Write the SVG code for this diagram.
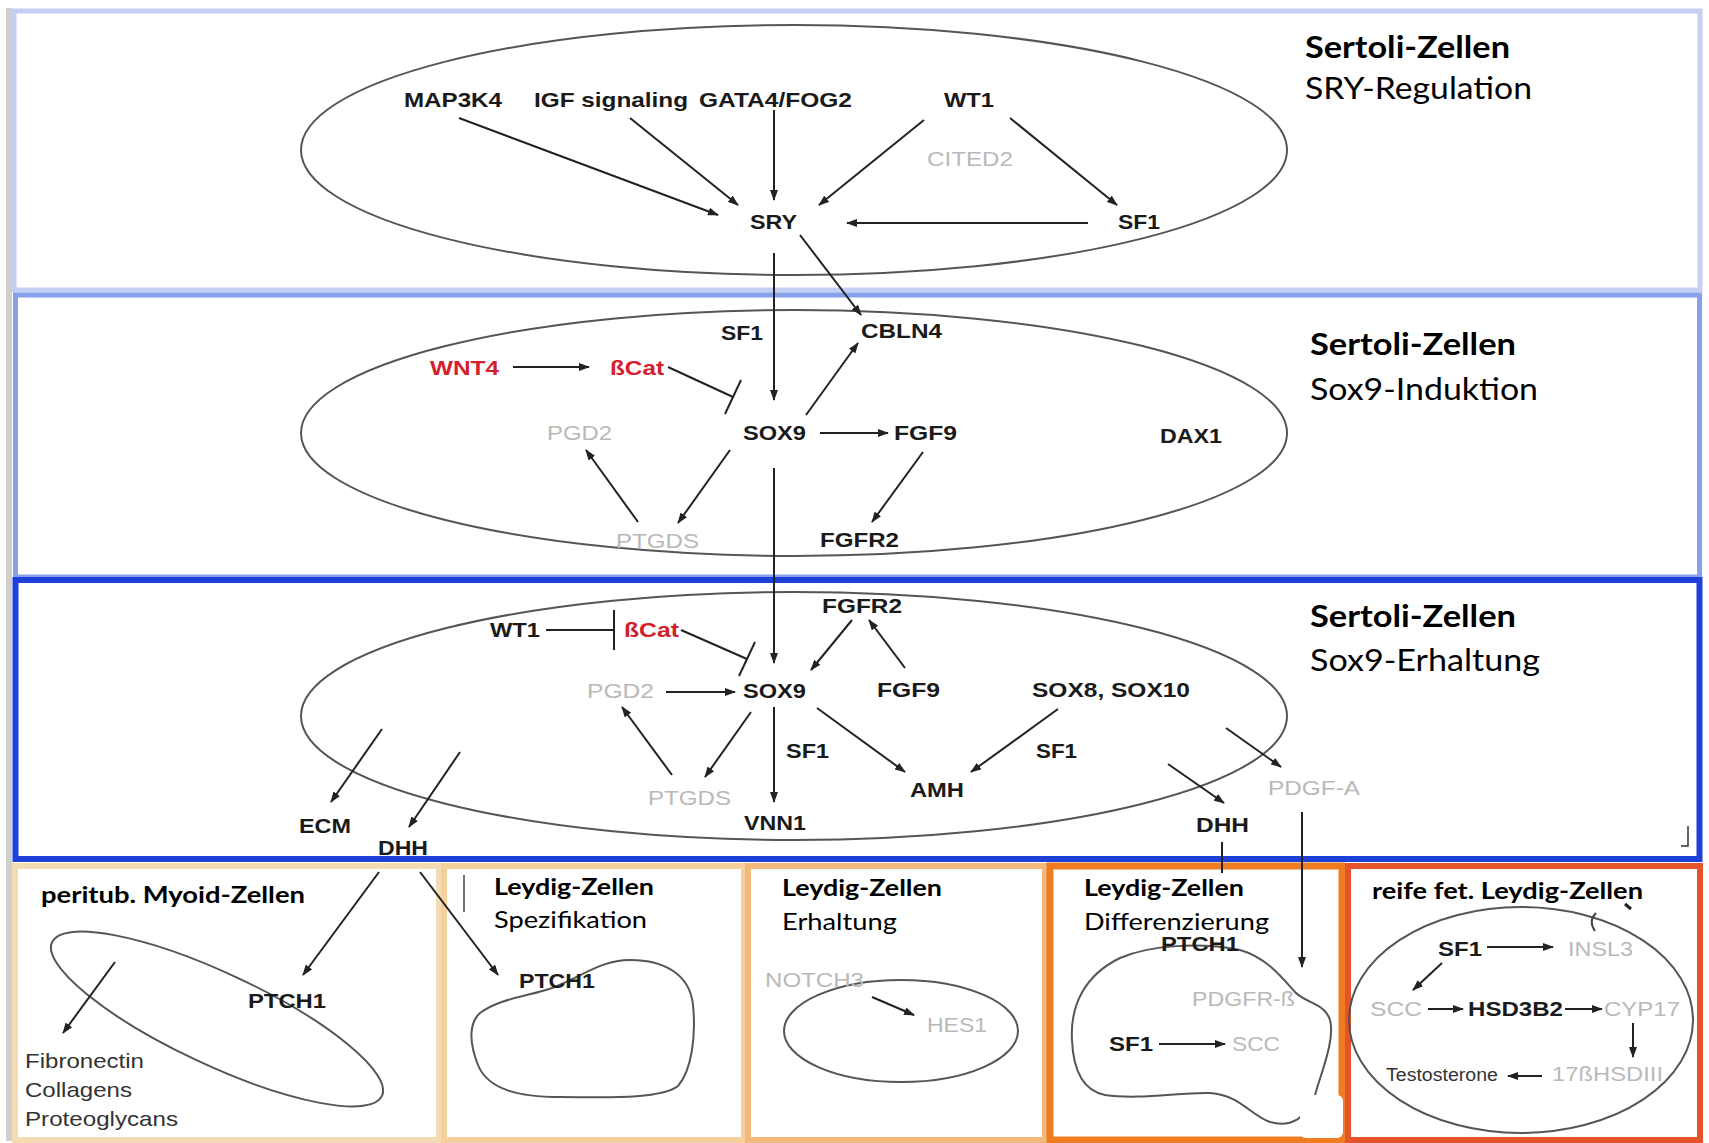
<svg xmlns="http://www.w3.org/2000/svg" width="1709" height="1143" viewBox="0 0 1709 1143">
<defs>
<marker id="ah" markerUnits="userSpaceOnUse" markerWidth="11" markerHeight="8" refX="10" refY="4" orient="auto">
<path d="M0,0 L11,4 L0,8 z" fill="#222"/>
</marker>
<style>
.n{font-family:"Liberation Sans",Arial,sans-serif;font-weight:bold;font-size:21px;fill:#1a1a1a}
.g{fill:#b9b9b9;font-weight:normal}
.r{fill:#d3202c}
.k{fill:#333;font-weight:normal}
.h{font-family:Lato,"Open Sans","Liberation Sans",sans-serif;font-size:31px;fill:#000}
.s{font-family:Lato,"Open Sans","Liberation Sans",sans-serif;font-size:23px;fill:#000}
.b{font-weight:bold}
.cell{fill:none;stroke:#555;stroke-width:2}
.c{stroke:#222;stroke-width:2;fill:none;marker-end:url(#ah)}
.t{stroke:#222;stroke-width:2;fill:none}
</style>
</defs>
<rect width="1709" height="1143" fill="#fff"/>
<g id="frames">
<line x1="9" y1="8" x2="9" y2="1141" stroke="#cfcfcf" stroke-width="6"/>
<rect x="14" y="11" width="1686" height="279" fill="#fff" stroke="#c4cff3" stroke-width="5"/>
<rect x="15.5" y="295" width="1684" height="282" fill="#fff" stroke="#86a0ec" stroke-width="5"/>
<rect x="15.5" y="580" width="1684" height="279" fill="#fff" stroke="#1c40d8" stroke-width="6"/>
<rect x="15" y="866" width="424" height="274" fill="#fff" stroke="#f3dcb4" stroke-width="6"/>
<rect x="444" y="866" width="300" height="274" fill="#fff" stroke="#f5cf9c" stroke-width="6"/>
<rect x="748" y="866" width="297" height="274" fill="#fff" stroke="#f3b87c" stroke-width="6"/>
<rect x="1050" y="866" width="292" height="274" fill="#fff" stroke="#f07c22" stroke-width="7"/>
<rect x="1348" y="866" width="352" height="274" fill="#fff" stroke="#e4532a" stroke-width="6"/>
</g>
<g id="cells">
<ellipse class="cell" cx="794" cy="150" rx="493" ry="125"/>
<ellipse class="cell" cx="794" cy="433" rx="493" ry="123"/>
<ellipse class="cell" cx="794" cy="716" rx="493" ry="124"/>
<ellipse class="cell" cx="217" cy="1019" rx="182" ry="46" transform="rotate(25 217 1019)"/>
<path class="cell" d="M480,1013 C500,998 530,996 552,988 C580,978 600,960 630,960 C665,960 690,975 693,1005 C696,1035 692,1070 678,1086 C660,1100 600,1097 560,1097 C520,1097 488,1090 478,1065 C468,1040 470,1022 480,1013 Z"/>
<ellipse class="cell" cx="901" cy="1031" rx="117" ry="51"/>
<path class="cell" d="M1072,1040 C1070,1005 1085,975 1120,958 C1150,945 1200,942 1240,950 C1265,957 1280,975 1295,992 C1305,1003 1325,1003 1330,1020 C1335,1040 1322,1070 1315,1095 C1308,1118 1290,1128 1270,1122 C1250,1115 1240,1095 1210,1093 C1180,1092 1140,1100 1105,1095 C1080,1090 1073,1065 1072,1040 Z"/>
<ellipse class="cell" cx="1521" cy="1020" rx="172" ry="113"/>
</g>
<g id="connectors">
<line class="c" x1="459" y1="118" x2="718" y2="215"/>
<line class="c" x1="630" y1="118" x2="738" y2="205"/>
<line class="c" x1="774" y1="110" x2="774" y2="200"/>
<line class="c" x1="924" y1="120" x2="819" y2="205"/>
<line class="c" x1="1010" y1="118" x2="1117" y2="205"/>
<line class="c" x1="1088" y1="223" x2="847" y2="223"/>
<line class="c" x1="774" y1="253" x2="774" y2="400"/>
<line class="c" x1="800" y1="235" x2="861" y2="315"/>
<line class="c" x1="513" y1="367" x2="589" y2="367"/>
<line class="t" x1="668" y1="367" x2="733" y2="397"/>
<line class="t" x1="741" y1="380" x2="725" y2="414"/>
<line class="c" x1="806" y1="415" x2="858" y2="343"/>
<line class="c" x1="820" y1="433" x2="888" y2="433"/>
<line class="c" x1="730" y1="450" x2="678" y2="523"/>
<line class="c" x1="638" y1="522" x2="586" y2="450"/>
<line class="c" x1="923" y1="452" x2="872" y2="522"/>
<line class="c" x1="774" y1="468" x2="774" y2="663"/>
<line class="t" x1="546" y1="630" x2="614" y2="630"/>
<line class="t" x1="614" y1="610" x2="614" y2="650"/>
<line class="t" x1="681" y1="630" x2="747" y2="659"/>
<line class="t" x1="755" y1="642" x2="739" y2="676"/>
<line class="c" x1="666" y1="692" x2="735" y2="692"/>
<line class="c" x1="852" y1="620" x2="811" y2="670"/>
<line class="c" x1="905" y1="668" x2="869" y2="620"/>
<line class="c" x1="817" y1="708" x2="905" y2="772"/>
<line class="c" x1="1058" y1="709" x2="971" y2="772"/>
<line class="c" x1="751" y1="712" x2="705" y2="777"/>
<line class="c" x1="672" y1="775" x2="622" y2="707"/>
<line class="c" x1="774" y1="707" x2="774" y2="802"/>
<line class="c" x1="382" y1="729" x2="331" y2="802"/>
<line class="c" x1="460" y1="752" x2="409" y2="827"/>
<line class="c" x1="1226" y1="728" x2="1281" y2="767"/>
<line class="c" x1="1168" y1="764" x2="1224" y2="803"/>
<line class="t" x1="1222" y1="842" x2="1222" y2="873"/>
<line class="c" x1="1302" y1="812" x2="1302" y2="967"/>
<line class="c" x1="379" y1="872" x2="303" y2="975"/>
<line class="c" x1="420" y1="872" x2="498" y2="975"/>
<line class="c" x1="115" y1="962" x2="63" y2="1033"/>
<line class="c" x1="872" y1="997" x2="914" y2="1015"/>
<line class="c" x1="1159" y1="1044" x2="1225" y2="1044"/>
<line class="c" x1="1487" y1="947" x2="1553" y2="947"/>
<line class="c" x1="1442" y1="963" x2="1413" y2="990"/>
<line class="c" x1="1428" y1="1009" x2="1463" y2="1009"/>
<line class="c" x1="1565" y1="1009" x2="1602" y2="1009"/>
<line class="c" x1="1633" y1="1023" x2="1633" y2="1057"/>
<line class="c" x1="1542" y1="1076" x2="1508" y2="1076"/>
</g>
<g id="marks">
<path d="M1681,846 L1688,846 L1688,826" fill="none" stroke="#333" stroke-width="1.5"/>
<line x1="464" y1="875" x2="464" y2="912" stroke="#444" stroke-width="1.5"/>
<path d="M1596,913 Q1588,921 1595,931" fill="none" stroke="#444" stroke-width="2"/>
<path d="M1625,904 L1631,909" stroke="#222" stroke-width="3"/>
<rect x="1300" y="1095" width="43" height="43" rx="6" fill="#fff"/>
</g>
<g id="headers">
<g id="h1"><text class="h b" x="1305" y="58" textLength="205" lengthAdjust="spacingAndGlyphs">Sertoli-Zellen</text><text class="h" x="1305" y="99" textLength="227" lengthAdjust="spacingAndGlyphs">SRY-Regulation</text></g>
<g id="h2"><text class="h b" x="1310" y="355" textLength="206" lengthAdjust="spacingAndGlyphs">Sertoli-Zellen</text><text class="h" x="1310" y="400" textLength="228" lengthAdjust="spacingAndGlyphs">Sox9-Induktion</text></g>
<g id="h3"><text class="h b" x="1310" y="627" textLength="206" lengthAdjust="spacingAndGlyphs">Sertoli-Zellen</text><text class="h" x="1310" y="671" textLength="230" lengthAdjust="spacingAndGlyphs">Sox9-Erhaltung</text></g>
<g id="hA"><text class="s b" x="41" y="903" textLength="264" lengthAdjust="spacingAndGlyphs">peritub. Myoid-Zellen</text></g>
<g id="hB"><text class="s b" x="494" y="895" textLength="160" lengthAdjust="spacingAndGlyphs">Leydig-Zellen</text><text class="s" x="494" y="928" textLength="153" lengthAdjust="spacingAndGlyphs">Spezifikation</text></g>
<g id="hC"><text class="s b" x="782" y="896" textLength="160" lengthAdjust="spacingAndGlyphs">Leydig-Zellen</text><text class="s" x="782" y="930" textLength="115" lengthAdjust="spacingAndGlyphs">Erhaltung</text></g>
<g id="hD"><text class="s b" x="1084" y="896" textLength="160" lengthAdjust="spacingAndGlyphs">Leydig-Zellen</text><text class="s" x="1084" y="930" textLength="185" lengthAdjust="spacingAndGlyphs">Differenzierung</text></g>
<g id="hE"><text class="s b" x="1372" y="899" textLength="271" lengthAdjust="spacingAndGlyphs">reife fet. Leydig-Zellen</text></g>
</g>
<g id="nodes">
<g id="p1-map3k4"><text class="n" x="404" y="107" textLength="98" lengthAdjust="spacingAndGlyphs">MAP3K4</text></g>
<g id="p1-igf"><text class="n" x="534" y="107" textLength="154" lengthAdjust="spacingAndGlyphs">IGF signaling</text></g>
<g id="p1-gata4"><text class="n" x="699" y="107" textLength="153" lengthAdjust="spacingAndGlyphs">GATA4/FOG2</text></g>
<g id="p1-wt1"><text class="n" x="944" y="107" textLength="50" lengthAdjust="spacingAndGlyphs">WT1</text></g>
<g id="p1-cited2"><text class="n g" x="927" y="166" textLength="86" lengthAdjust="spacingAndGlyphs">CITED2</text></g>
<g id="p1-sry"><text class="n" x="750" y="229" textLength="47" lengthAdjust="spacingAndGlyphs">SRY</text></g>
<g id="p1-sf1"><text class="n" x="1118" y="229" textLength="42" lengthAdjust="spacingAndGlyphs">SF1</text></g>
<g id="p2-sf1"><text class="n" x="721" y="340" textLength="42" lengthAdjust="spacingAndGlyphs">SF1</text></g>
<g id="p2-cbln4"><text class="n" x="861" y="338" textLength="81" lengthAdjust="spacingAndGlyphs">CBLN4</text></g>
<g id="p2-wnt4"><text class="n r" x="430" y="375" textLength="69" lengthAdjust="spacingAndGlyphs">WNT4</text></g>
<g id="p2-bcat"><text class="n r" x="610" y="375" textLength="54" lengthAdjust="spacingAndGlyphs">ßCat</text></g>
<g id="p2-sox9"><text class="n" x="743" y="440" textLength="63" lengthAdjust="spacingAndGlyphs">SOX9</text></g>
<g id="p2-pgd2"><text class="n g" x="547" y="440" textLength="65" lengthAdjust="spacingAndGlyphs">PGD2</text></g>
<g id="p2-fgf9"><text class="n" x="894" y="440" textLength="63" lengthAdjust="spacingAndGlyphs">FGF9</text></g>
<g id="p2-dax1"><text class="n" x="1160" y="443" textLength="62" lengthAdjust="spacingAndGlyphs">DAX1</text></g>
<g id="p2-ptgds"><text class="n g" x="616" y="548" textLength="83" lengthAdjust="spacingAndGlyphs">PTGDS</text></g>
<g id="p2-fgfr2"><text class="n" x="820" y="547" textLength="79" lengthAdjust="spacingAndGlyphs">FGFR2</text></g>
<g id="p3-fgfr2"><text class="n" x="822" y="613" textLength="80" lengthAdjust="spacingAndGlyphs">FGFR2</text></g>
<g id="p3-wt1"><text class="n" x="490" y="637" textLength="50" lengthAdjust="spacingAndGlyphs">WT1</text></g>
<g id="p3-bcat"><text class="n r" x="624" y="637" textLength="55" lengthAdjust="spacingAndGlyphs">ßCat</text></g>
<g id="p3-pgd2"><text class="n g" x="587" y="698" textLength="67" lengthAdjust="spacingAndGlyphs">PGD2</text></g>
<g id="p3-sox9"><text class="n" x="743" y="698" textLength="63" lengthAdjust="spacingAndGlyphs">SOX9</text></g>
<g id="p3-fgf9"><text class="n" x="877" y="697" textLength="63" lengthAdjust="spacingAndGlyphs">FGF9</text></g>
<g id="p3-sox8"><text class="n" x="1032" y="697" textLength="158" lengthAdjust="spacingAndGlyphs">SOX8, SOX10</text></g>
<g id="p3-sf1a"><text class="n" x="786" y="758" textLength="43" lengthAdjust="spacingAndGlyphs">SF1</text></g>
<g id="p3-sf1b"><text class="n" x="1036" y="758" textLength="41" lengthAdjust="spacingAndGlyphs">SF1</text></g>
<g id="p3-amh"><text class="n" x="910" y="797" textLength="54" lengthAdjust="spacingAndGlyphs">AMH</text></g>
<g id="p3-ptgds"><text class="n g" x="648" y="805" textLength="83" lengthAdjust="spacingAndGlyphs">PTGDS</text></g>
<g id="p3-vnn1"><text class="n" x="744" y="830" textLength="62" lengthAdjust="spacingAndGlyphs">VNN1</text></g>
<g id="p3-ecm"><text class="n" x="299" y="833" textLength="52" lengthAdjust="spacingAndGlyphs">ECM</text></g>
<g id="p3-dhh1"><text class="n" x="378" y="855" textLength="50" lengthAdjust="spacingAndGlyphs">DHH</text></g>
<g id="p3-pdgfa"><text class="n g" x="1268" y="795" textLength="92" lengthAdjust="spacingAndGlyphs">PDGF-A</text></g>
<g id="p3-dhh2"><text class="n" x="1196" y="832" textLength="53" lengthAdjust="spacingAndGlyphs">DHH</text></g>
<g id="a-ptch1"><text class="n" x="248" y="1008" textLength="78" lengthAdjust="spacingAndGlyphs">PTCH1</text></g>
<g id="a-ecm"><text class="n k" x="25" y="1068" textLength="119" lengthAdjust="spacingAndGlyphs">Fibronectin</text><text class="n k" x="25" y="1097" textLength="107" lengthAdjust="spacingAndGlyphs">Collagens</text><text class="n k" x="25" y="1126" textLength="153" lengthAdjust="spacingAndGlyphs">Proteoglycans</text></g>
<g id="b-ptch1"><text class="n" x="519" y="988" textLength="76" lengthAdjust="spacingAndGlyphs">PTCH1</text></g>
<g id="c-notch3"><text class="n g" x="765" y="987" textLength="99" lengthAdjust="spacingAndGlyphs">NOTCH3</text></g>
<g id="c-hes1"><text class="n g" x="927" y="1032" textLength="60" lengthAdjust="spacingAndGlyphs">HES1</text></g>
<g id="d-ptch1"><text class="n" x="1161" y="951" textLength="78" lengthAdjust="spacingAndGlyphs">PTCH1</text></g>
<g id="d-pdgfr"><text class="n g" x="1192" y="1006" textLength="103" lengthAdjust="spacingAndGlyphs">PDGFR-ß</text></g>
<g id="d-sf1"><text class="n" x="1109" y="1051" textLength="44" lengthAdjust="spacingAndGlyphs">SF1</text></g>
<g id="d-scc"><text class="n g" x="1232" y="1051" textLength="48" lengthAdjust="spacingAndGlyphs">SCC</text></g>
<g id="e-sf1"><text class="n" x="1438" y="956" textLength="44" lengthAdjust="spacingAndGlyphs">SF1</text></g>
<g id="e-insl3"><text class="n g" x="1568" y="956" textLength="65" lengthAdjust="spacingAndGlyphs">INSL3</text></g>
<g id="e-scc"><text class="n g" x="1370" y="1016" textLength="52" lengthAdjust="spacingAndGlyphs">SCC</text></g>
<g id="e-hsd3b2"><text class="n" x="1468" y="1016" textLength="95" lengthAdjust="spacingAndGlyphs">HSD3B2</text></g>
<g id="e-cyp17"><text class="n g" x="1604" y="1016" textLength="76" lengthAdjust="spacingAndGlyphs">CYP17</text></g>
<g id="e-17b"><text class="n g" x="1552" y="1081" textLength="111" lengthAdjust="spacingAndGlyphs">17ßHSDIII</text></g>
<g id="e-testo"><text class="n k" x="1386" y="1081" style="font-size:18px" textLength="112" lengthAdjust="spacingAndGlyphs">Testosterone</text></g>
</g>
</svg>
